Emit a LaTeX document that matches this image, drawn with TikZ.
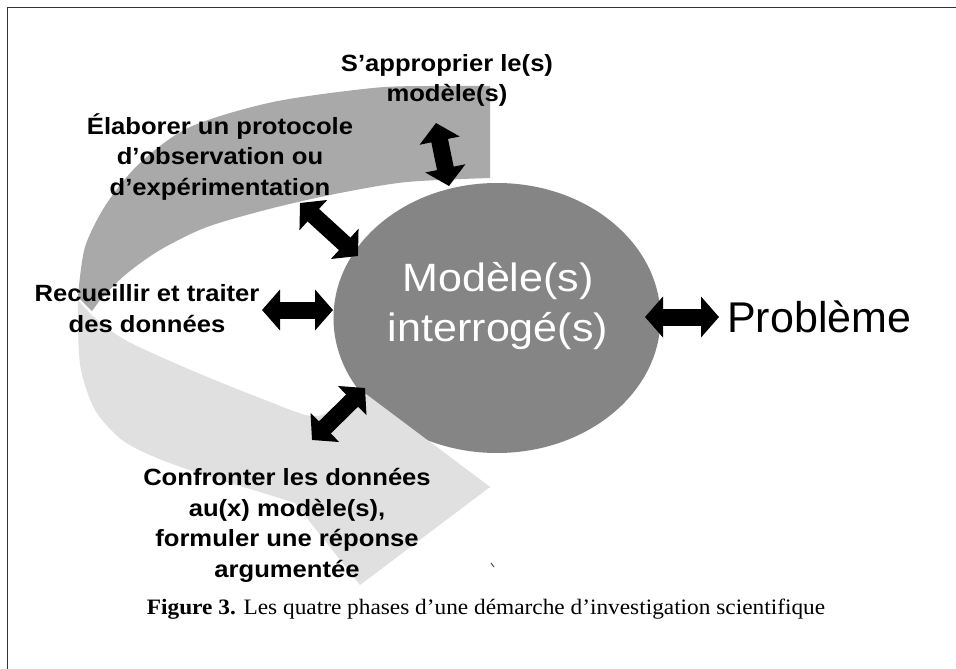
\documentclass[tikz,border=0pt]{standalone}
\usepackage{fontspec}
\setmainfont{Liberation Serif}
\newfontfamily\lblfont{Liberation Sans}[FakeStretch=1.09]
\newfontfamily\plainfont{Liberation Sans}
\newfontfamily\capfont{Liberation Serif}[FakeStretch=1.06]
\usetikzlibrary{arrows.meta,shapes.geometric}
\definecolor{banddark}{HTML}{A9A9A9}
\definecolor{bandlight}{HTML}{E0E0E1}
\definecolor{ellgray}{HTML}{858585}
\definecolor{framegray}{HTML}{333333}
\begin{document}
\begin{tikzpicture}[x=1pt,y=-1pt,
  lbl/.style={font=\lblfont\bfseries\fontsize{23.5}{30.5}\selectfont, align=center, anchor=base, text=black, inner sep=0pt},
  blockarrow/.style={line width=17pt, {Triangle[width=40pt,length=18pt]}-{Triangle[width=40pt,length=18pt]}},
]
\useasboundingbox (0,0) rectangle (956,669);
\fill[white] (0,0) rectangle (956,669);
\draw[framegray, line width=1.5pt] (7.3,669) -- (7.3,7.3) -- (956,7.3);

% light lower band with arrow head
\fill[bandlight] plot[smooth] coordinates {(78,297) (78,330) (81,370) (95,410) (122,440) (157,458) (207,476) (260,492) (295,503)}
  -- (360,585) -- (490,487) -- (362,391)
  -- plot[smooth] coordinates {(335,410) (310,416) (260,398) (193,371) (127,341) (95,318) (78,300)} -- cycle;
% dark upper band
\fill[banddark] plot[smooth] coordinates {(490,86) (430,86) (373,88) (273,102) (190,127) (140,163) (107,203) (85,247) (78,297)}
  -- (92,311)
  -- plot[smooth] coordinates {(100,300) (125,275) (160,250) (207,227) (273,208) (340,193) (407,182) (490,178)} -- cycle;

% central ellipse
\node[ellipse, fill=ellgray, minimum width=327pt, minimum height=270pt, inner sep=0pt] (ell) at (497,318) {};
% arrow head of the band passes over the ellipse
\fill[bandlight] (362,391) -- (490,487) -- (362,487) -- cycle;

\node[font=\lblfont\fontsize{39.5}{50}\selectfont, text=white, align=center, anchor=base, inner sep=0pt] (elltxt) at (498,341) {Modèle(s)\\interrogé(s)};

\node[lbl] (appr) at (447,102) {S’approprier le(s)\\modèle(s)};
\node[lbl] (elab) at (220,195) {Élaborer un protocole\\d’observation ou\\d’expérimentation};
\node[lbl] (recu) at (147,332) {Recueillir et traiter\\des données};
\node[lbl] (conf) at (287,577) {Confronter les données\\au(x) modèle(s),\\formuler une réponse\\argumentée};
\node[font=\plainfont\fontsize{43}{50}\selectfont, anchor=base west, inner sep=0pt] (prob) at (727,332) {Problème};

\coordinate (a1s) at (436,123); \coordinate (a1e) at (449,186);
\coordinate (a2s) at (300,203); \coordinate (a2e) at (358,256);
\coordinate (a3s) at (262,310); \coordinate (a3e) at (333,310);
\coordinate (a4s) at (312,440); \coordinate (a4e) at (365,388);
\coordinate (a5s) at (645,317); \coordinate (a5e) at (719,317);
\draw[blockarrow] (a1s) -- (a1e);
\draw[blockarrow] (a2s) -- (a2e);
\draw[blockarrow] (a3s) -- (a3e);
\draw[blockarrow] (a4s) -- (a4e);
\draw[blockarrow] (a5s) -- (a5e);

\draw[gray!60!black, line width=1pt] (491,563) -- (494,567);

\node[font=\capfont\fontsize{22}{26}\selectfont, anchor=base, inner sep=0pt] (cap) at (486,614) {\textbf{Figure 3.} Les quatre phases d’une démarche d’investigation scientifique};
\end{tikzpicture}
\end{document}
